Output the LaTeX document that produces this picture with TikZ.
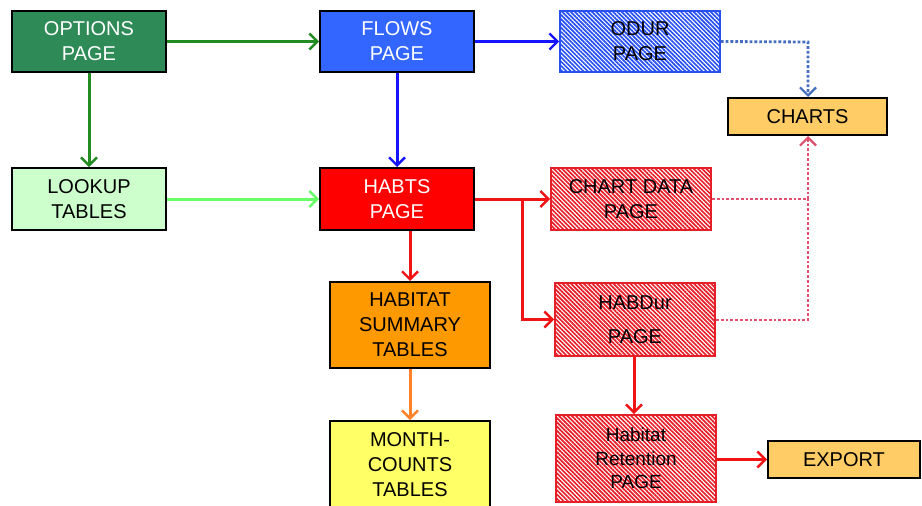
\documentclass[tikz,border=0pt]{standalone}
\usepackage{fontspec}
\setmainfont{Liberation Sans}
\usetikzlibrary{arrows.meta,patterns.meta}
\definecolor{optgreen}{RGB}{46,139,87}
\definecolor{flowblue}{RGB}{51,102,255}
\definecolor{lookgreen}{RGB}{204,255,204}
\definecolor{sumorange}{RGB}{255,153,0}
\definecolor{monthyellow}{RGB}{255,255,102}
\definecolor{chartorange}{RGB}{255,204,102}
\definecolor{arrgreen}{RGB}{34,139,34}
\definecolor{arrlgreen}{RGB}{102,255,102}
\definecolor{arrblue}{RGB}{20,20,255}
\definecolor{hatchblue}{RGB}{40,80,240}
\definecolor{arrred}{RGB}{240,20,20}
\definecolor{hatchred}{RGB}{230,30,40}
\definecolor{arrorange}{RGB}{255,130,40}
\definecolor{dotblue}{RGB}{70,110,190}
\definecolor{dotred}{RGB}{225,80,110}
\begin{document}
\begin{tikzpicture}[x=1pt,y=-1pt,
  box/.style={draw=black, line width=2pt, inner sep=0pt, align=center,
    font=\fontsize{20}{25}\selectfont},
  hatchbox/.style={box, draw=#1, line width=1.8pt,
    pattern={Lines[angle=-45,distance=3pt,line width=1.7pt]}, pattern color=#1},
  conn/.style={line width=3pt, -{Straight Barb[length=8pt,width=16pt,line width=2.4pt]}},
  dotconn/.style={line width=2.8pt, dotted, -{Straight Barb[length=8pt,width=16pt,line width=2.2pt]}}
]
\useasboundingbox (0,0) rectangle (922,506);
\clip (0,0) rectangle (922,506);

\node[box, fill=optgreen, text=white, minimum width=154pt, minimum height=61pt] (options) at (89,41.5) {OPTIONS\\PAGE};
\node[box, fill=flowblue, text=white, minimum width=154pt, minimum height=61pt] (flows) at (397,41.5) {FLOWS\\PAGE};
\node[hatchbox=hatchblue, minimum width=160pt, minimum height=61pt] (odur) at (640,41.5) {ODUR\\PAGE};
\node[box, fill=chartorange, minimum width=159pt, minimum height=37pt] (charts) at (807.5,116.5) {CHARTS};
\node[box, fill=lookgreen, minimum width=154pt, minimum height=62pt] (lookup) at (89,199) {LOOKUP\\TABLES};
\node[box, fill=red, text=white, minimum width=154pt, minimum height=62pt] (habts) at (397,199) {HABTS\\PAGE};
\node[hatchbox=hatchred, minimum width=160pt, minimum height=62pt] (chartdata) at (631,199) {CHART DATA\\PAGE};
\node[hatchbox=hatchred, minimum width=160pt, minimum height=73pt] (habdur) at (635,319.5) {HABDur\\[9pt]PAGE};
\node[box, fill=sumorange, minimum width=160pt, minimum height=86pt] (summary) at (410,325) {HABITAT\\SUMMARY\\TABLES};
\node[box, fill=monthyellow, minimum width=160pt, minimum height=88pt] (month) at (410,465) {MONTH-\\COUNTS\\TABLES};
\node[hatchbox=hatchred, minimum width=160pt, minimum height=87pt, font=\fontsize{19}{23.5}\selectfont] (retention) at (636,458.5) {Habitat\\Retention\\PAGE};
\node[box, fill=chartorange, minimum width=152pt, minimum height=37pt] (export) at (844,459.5) {EXPORT};

\coordinate (split) at (522,199);
\coordinate (cjoinA) at (808,42);
\coordinate (cjoinB) at (808,199);
\coordinate (cjoinC) at (808,320);

\draw[conn, arrgreen] (options) -- (flows);
\draw[conn, arrgreen] (options) -- (lookup);
\draw[conn, arrblue] (flows) -- (odur);
\draw[conn, arrblue] (flows) -- (habts);
\draw[conn, arrlgreen] (lookup) -- (habts);
\draw[conn, arrred] (habts) -- (chartdata);
\draw[conn, arrred] (split) |- (habdur.west);
\draw[conn, arrred] (summary.north |- habts.south) -- (summary.north);
\draw[conn, arrorange] (summary) -- (month);
\draw[conn, arrred] (habdur.south -| 634,0) -- (retention.north -| 634,0);
\draw[conn, arrred] (retention.east |- export) -- (export);

\draw[dotconn, dotblue] (odur.east) -- (cjoinA) -- (charts.north -| cjoinA);
\draw[dotconn, dotred] (chartdata.east) -- (cjoinB) -- (charts.south -| cjoinB);
\draw[line width=2.8pt, dotted, dotred] (habdur.east |- cjoinC) -- (cjoinC) -- (cjoinB);
\end{tikzpicture}
\end{document}
